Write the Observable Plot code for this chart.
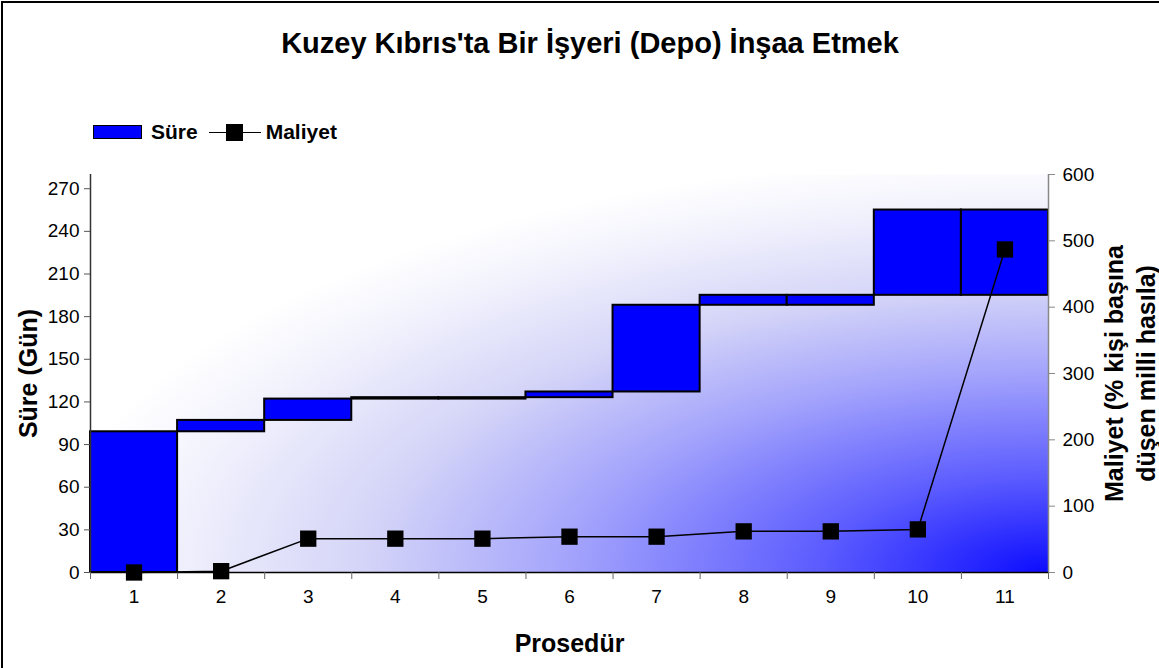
<!DOCTYPE html>
<html><head><meta charset="utf-8">
<script src="https://cdn.jsdelivr.net/npm/d3@7"></script>
<script src="https://cdn.jsdelivr.net/npm/@observablehq/plot@0.6"></script>
<style>
html,body{margin:0;padding:0;background:#fff;overflow:hidden;}
#wrap{position:relative;left:1px;top:1px;width:1170px;height:680px;border:2px solid #000;box-sizing:border-box;font-family:"Liberation Sans",Arial,sans-serif;}
#title{position:absolute;left:0;top:23px;width:1174px;text-align:center;font-size:29px;line-height:34px;font-weight:bold;color:#000;white-space:nowrap;}
#legend{position:absolute;left:90px;top:116px;height:26px;display:flex;align-items:center;font-size:21px;font-weight:bold;}
#legend .sw{width:47px;height:12px;background:#0000ff;border:1px solid #000;margin-right:9px;}
#legend .ln{position:relative;width:52px;height:17px;margin-left:11px;margin-right:5px;}
#legend .ln:before{content:"";position:absolute;left:0;right:0;top:8px;height:1.5px;background:#000;}
#legend .ln:after{content:"";position:absolute;left:17px;top:0;width:17px;height:17px;background:#000;}
#chart{position:absolute;left:-2px;top:148px;}
</style>
</head><body>
<div id="wrap">
  <div id="title">Kuzey Kıbrıs'ta Bir İşyeri (Depo) İnşaa Etmek</div>
  <div id="legend"><div class="sw"></div><span>Süre</span><div class="ln"></div><span>Maliyet</span></div>
  <div id="chart"></div>
</div>
<script>
// Procedures
const procedures = [1, 2, 3, 4, 5, 6, 7, 8, 9, 10, 11];
// Duration (days): cumulative start and end of each procedure
const sureStart = [0, 99, 107, 122, 122, 123, 127, 188, 188, 195, 195];
const sureEnd   = [99, 107, 122, 123, 123, 127, 188, 195, 195, 255, 255];
// Cost (% of income per capita), cumulative
const maliyet = [0, 2, 51, 51, 51, 54, 54, 62, 62, 65, 487];
// Axis ticks
const leftTicks = [0, 30, 60, 90, 120, 150, 180, 210, 240, 270];
const rightTicks = [0, 100, 200, 300, 400, 500, 600];

const leftMax = 280, rightMax = 600;
const toLeft = v => v * leftMax / rightMax;

const bars = procedures.map((p, i) => ({p, x1: p - 0.5, x2: p + 0.5, y1: sureStart[i], y2: sureEnd[i]}));
const costs = procedures.map((p, i) => ({p, c: maliyet[i]}));
const bounds = [0, ...procedures].map(p => p + 0.5);

const W = 1159, H = 518;
const plot = Plot.plot({
  width: W, height: H,
  marginLeft: 89, marginRight: 112, marginTop: 23, marginBottom: 97,
  style: {fontFamily: '"Liberation Sans", Arial, sans-serif', fontSize: "19px", background: "transparent", color: "#000"},
  x: {type: "linear", domain: [0.5, 11.5]},
  y: {domain: [0, leftMax]},
  marks: [
    Plot.frame({fill: "url(#bggrad)", stroke: "none"}),
    Plot.rectY(bars, {x1: "x1", x2: "x2", y1: "y1", y2: "y2", fill: "#0000ff", stroke: "#000", strokeWidth: 2}),
    Plot.ruleX([0.5], {stroke: "#333", strokeWidth: 1.5}),
    Plot.ruleX([11.5], {stroke: "#888", strokeWidth: 1.5}),
    Plot.ruleY([0], {stroke: "#000", strokeWidth: 1.5}),
    Plot.axisY({ticks: leftTicks, tickSize: 6, tickPadding: 5, label: null, fontSize: 19, anchor: "left", stroke: "#555"}),
    Plot.axisY(rightTicks.map(toLeft), {anchor: "right", tickSize: 6, tickPadding: 8, label: null, fontSize: 19, stroke: "#888", tickFormat: v => Math.round(v * rightMax / leftMax)}),
    Plot.axisX(bounds, {tickSize: 7, tickFormat: () => "", label: null, stroke: "#666"}),
    Plot.axisX({ticks: procedures, tickSize: 0, tickPadding: 17, label: null, fontSize: 19, tickFormat: d => String(d)}),
    Plot.line(costs, {x: "p", y: d => toLeft(d.c), stroke: "#000", strokeWidth: 1.5}),
    Plot.dot(costs, {x: "p", y: d => toLeft(d.c), symbol: "square", r: 9.2, fill: "#000", stroke: "none"}),
    Plot.text(["Süre (Gün)"], {frameAnchor: "left", textAnchor: "middle", rotate: -90, dx: -62, fontSize: 25, fontWeight: "bold"}),
    Plot.text(["Maliyet (% kişi başına\ndüşen milli hasıla)"], {frameAnchor: "right", textAnchor: "middle", rotate: -90, dx: 80, fontSize: 25, fontWeight: "bold", lineHeight: 1.3}),
    Plot.text(["Prosedür"], {frameAnchor: "bottom", dy: 79, fontSize: 25, fontWeight: "bold"})
  ]
});

// gradient background for plot area
const svg = d3.select(plot);
const defs = svg.insert("defs", ":first-child");
const g = defs.append("radialGradient").attr("id", "bggrad")
  .attr("gradientUnits", "objectBoundingBox")
  .attr("cx", 1).attr("cy", 1).attr("r", 1.05).attr("fx", 1).attr("fy", 1);
[[0, "#0c0cff"], [0.23, "#5c5cff"], [0.48, "#a4a4fc"], [0.68, "#d4d4f8"], [0.88, "#f2f2fd"], [1, "#ffffff"]]
  .forEach(([o, c]) => g.append("stop").attr("offset", o).attr("stop-color", c));

document.getElementById("chart").appendChild(plot);
</script>
</body></html>
